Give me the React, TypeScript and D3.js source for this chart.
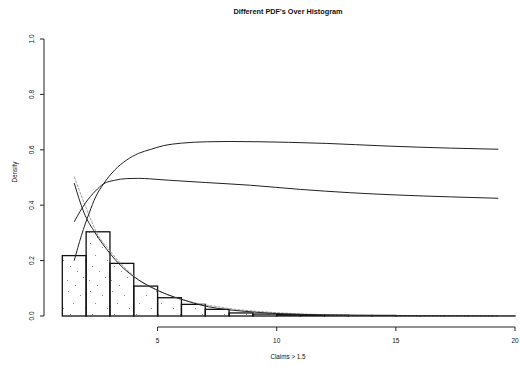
import React, { useMemo } from "react";
import * as d3 from "d3";

const W = 520;
const H = 366;

// histogram: bins [1,2), [2,3) ... density values
const binStarts = [1, 2, 3, 4, 5, 6, 7, 8, 9, 10, 11, 12, 13, 14, 15, 16, 17, 18, 19];
const binDensity = [0.218, 0.304, 0.19, 0.108, 0.066, 0.042, 0.024, 0.011, 0.007, 0.005, 0.004, 0.003, 0.002, 0.002, 0.001, 0.0006, 0.0005, 0.0004, 0.0003];

// upper fitted pdf
const upperX = [1.5, 1.8, 2.13, 2.4, 2.73, 3.2, 3.7, 4.2, 4.69, 5.25, 6.0, 7.09, 8.0, 9.3, 10.5, 12.1, 14.5, 17.3, 19.3];
const upperY = [0.2, 0.29, 0.372, 0.43, 0.477, 0.527, 0.563, 0.587, 0.601, 0.615, 0.624, 0.629, 0.630, 0.629, 0.627, 0.623, 0.614, 0.606, 0.602];

// middle fitted pdf
const midX = [1.5, 1.97, 2.4, 2.73, 3.2, 3.7, 4.2, 4.69, 5.5, 7.0, 8.9, 11.0, 13.1, 15.0, 17.3, 19.3];
const midY = [0.34, 0.408, 0.452, 0.477, 0.49, 0.496, 0.497, 0.495, 0.49, 0.482, 0.472, 0.457, 0.445, 0.437, 0.43, 0.425];

// dark decreasing pdf
const darkX = [1.5, 1.9, 2.38, 3.0, 3.43, 4.0, 4.69, 5.39, 6.09, 6.79, 7.49, 8.5, 10, 12, 14, 16, 19.3];
const darkY = [0.48, 0.375, 0.3, 0.226, 0.184, 0.142, 0.106, 0.078, 0.058, 0.04, 0.028, 0.018, 0.009, 0.004, 0.002, 0.001, 0.0003];

// gray decreasing pdf
const grayX = [1.5, 2.0, 2.45, 3.0, 3.5, 4.0, 4.41, 5.0, 6.0, 7.0, 7.5, 8.0, 9.0, 10, 12, 15, 19.3];
const grayY = [0.503, 0.39, 0.3, 0.235, 0.185, 0.145, 0.118, 0.092, 0.06, 0.04, 0.034, 0.027, 0.018, 0.012, 0.005, 0.0015, 0.0003];

const yTicks = [0, 0.2, 0.4, 0.6, 0.8, 1.0];
const yTickLabels = ["0.0", "0.2", "0.4", "0.6", "0.8", "1.0"];
const xTicks = [5, 10, 15, 20];
const xTickLabels = ["5", "10", "15", "20"];

const FONT = "'Liberation Sans', Arial, sans-serif";

export default function App() {
  const x = d3.scaleLinear().domain([1, 20]).range([62.3, 515]);
  const y = d3.scaleLinear().domain([0, 1]).range([316, 39]);

  const line = d3
    .line<[number, number]>()
    .x((d) => x(d[0]))
    .y((d) => y(d[1]))
    .curve(d3.curveMonotoneX);

  const zip = (a: number[], b: number[]) => a.map((v, i) => [v, b[i]] as [number, number]);

  const dots = useMemo(() => {
    // sparse stipple positions within a pattern tile
    const pts: [number, number][] = [
      [2, 3], [14, 7], [7, 15], [19, 20], [4, 26], [11, 31], [17, 37], [1, 40], [9, 45]
    ];
    return pts;
  }, []);

  const axisY0 = 327;

  return (
    <svg
      width={W}
      height={H}
      style={{ position: "absolute", left: 0, top: 0, background: "#fff" }}
      fontFamily={FONT}
    >
      <defs>
        <pattern id="stip" width="22" height="48" patternUnits="userSpaceOnUse">
          {dots.map((p, i) => (
            <rect key={i} x={p[0]} y={p[1]} width={1} height={1} fill="#8a8a8a" />
          ))}
        </pattern>
      </defs>

      {/* title */}
      <text x={288} y={14} textAnchor="middle" fontSize={7.3} fontWeight="bold" fill="#111">
        Different PDF's Over Histogram
      </text>

      {/* histogram bars */}
      {binStarts.map((b, i) => (
        <rect
          key={i}
          x={x(b)}
          y={y(binDensity[i])}
          width={x(b + 1) - x(b)}
          height={y(0) - y(binDensity[i])}
          fill="url(#stip)"
          stroke="#111"
          strokeWidth={1.3}
        />
      ))}

      {/* curves */}
      <path d={line(zip(grayX, grayY)) || ""} fill="none" stroke="#a0a0a0" strokeWidth={1} strokeDasharray="3,1" />
      <path d={line(zip(darkX, darkY)) || ""} fill="none" stroke="#222" strokeWidth={1} />
      <path d={line(zip(midX, midY)) || ""} fill="none" stroke="#222" strokeWidth={1} />
      <path d={line(zip(upperX, upperY)) || ""} fill="none" stroke="#222" strokeWidth={1} />

      {/* y axis */}
      <line x1={44} x2={44} y1={y(0)} y2={y(1)} stroke="#222" strokeWidth={1} />
      {yTicks.map((t, i) => (
        <g key={i}>
          <line x1={40} x2={44} y1={y(t)} y2={y(t)} stroke="#222" strokeWidth={1} />
          <text
            transform={`translate(34,${y(t)}) rotate(-90)`}
            textAnchor="middle"
            fontSize={6.5}
            fill="#111"
          >
            {yTickLabels[i]}
          </text>
        </g>
      ))}
      <text transform={`translate(17,172) rotate(-90)`} textAnchor="middle" fontSize={6.3} fill="#111">
        Density
      </text>

      {/* x axis */}
      <line x1={x(5)} x2={x(20)} y1={axisY0} y2={axisY0} stroke="#222" strokeWidth={1} />
      {xTicks.map((t, i) => (
        <g key={i}>
          <line x1={x(t)} x2={x(t)} y1={axisY0} y2={axisY0 + 4} stroke="#222" strokeWidth={1} />
          <text x={x(t)} y={343} textAnchor="middle" fontSize={6.5} fill="#111">
            {xTickLabels[i]}
          </text>
        </g>
      ))}
      <text x={288} y={359} textAnchor="middle" fontSize={6.3} fill="#111">
        Claims &gt; 1.5
      </text>
    </svg>
  );
}
